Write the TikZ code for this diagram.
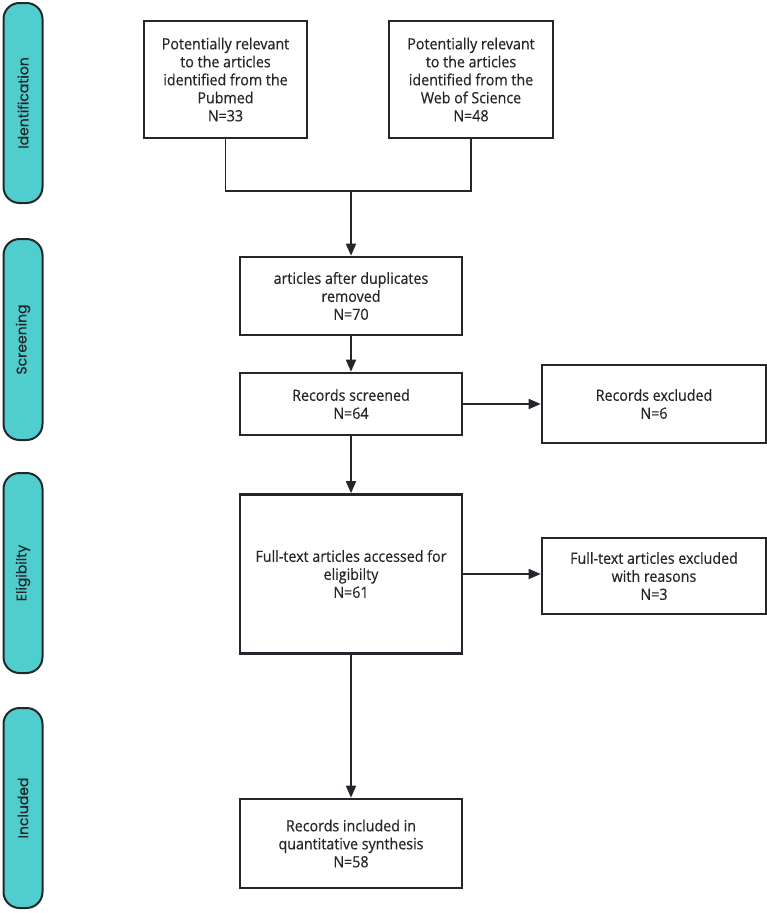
\documentclass[tikz,border=0pt]{standalone}
\usepackage{fontspec}
\setmainfont{Open Sans}[FakeStretch=0.92,FakeBold=0.4]
\newfontfamily\barfont{Poppins}[FakeBold=0.6]
\usetikzlibrary{arrows.meta}
\definecolor{tealbar}{RGB}{80,206,206}
\definecolor{ink}{RGB}{35,38,42}
\begin{document}
\begin{tikzpicture}[x=1pt,y=-1pt,
  stage/.style={draw=ink, line width=2pt, fill=tealbar, rounded corners=16pt,
    rotate=90, minimum height=39pt, inner sep=0pt, text=ink,
    font=\barfont\fontsize{14}{16}\selectfont},
  box/.style={draw=ink, line width=2.6pt, fill=white, align=center,
    font=\fontsize{15.5}{18}\selectfont, text=ink, inner sep=0pt},
  link/.style={draw=ink, line width=1.7pt},
  thinlink/.style={draw=ink, line width=1.3pt},
  arr/.style={link, -{Triangle[length=12pt,width=10pt]}}]
\useasboundingbox (0,0) rectangle (767,913);

% stage bars
\node[stage, minimum width=200pt] (sid) at (23,103) {Identification};
\node[stage, minimum width=201pt] (sscr) at (23,339.5) {Screening};
\node[stage, minimum width=200pt] (seli) at (23,573) {Eligibilty};
\node[stage, minimum width=200pt] (sinc) at (23,808) {Included};

% boxes
\node[box, minimum width=163pt, minimum height=117pt] (pub) at (225.5,79.5)
  {Potentially relevant\\to the articles\\identified from the\\Pubmed\\N=33};
\node[box, minimum width=164pt, minimum height=117pt] (wos) at (471,79.5)
  {Potentially relevant\\to the articles\\identified from the\\Web of Science\\N=48};
\node[box, minimum width=222pt, minimum height=78pt] (dup) at (351,296)
  {articles after duplicates\\removed\\N=70};
\node[box, minimum width=222pt, minimum height=62pt] (scr) at (351,404)
  {Records screened\\N=64};
\node[box, minimum width=224pt, minimum height=78pt] (exc) at (654,404)
  {Records excluded\\N=6};
\node[box, minimum width=222pt, minimum height=159pt] (ft) at (351,574)
  {Full-text articles accessed for\\eligibilty\\N=61};
\node[box, minimum width=224pt, minimum height=76pt] (exr) at (654,576)
  {Full-text articles excluded\\with reasons\\N=3};
\node[box, minimum width=222pt, minimum height=89pt] (inc) at (351,843.5)
  {Records included in\\quantitative synthesis\\N=58};

% connectors
\coordinate (j) at (351,191);
\draw[thinlink] (pub.south) |- (j) -| (wos.south);
\draw[arr] (j) -- (dup.north);
\draw[arr] (dup.south) -- (scr.north);
\draw[arr] (scr.east) -- (exc.west);
\draw[arr] (scr.south) -- (ft.north);
\draw[arr] (ft.east) -- (ft.east -| exr.west);
\draw[arr] (ft.south) -- (inc.north);
\end{tikzpicture}
\end{document}
